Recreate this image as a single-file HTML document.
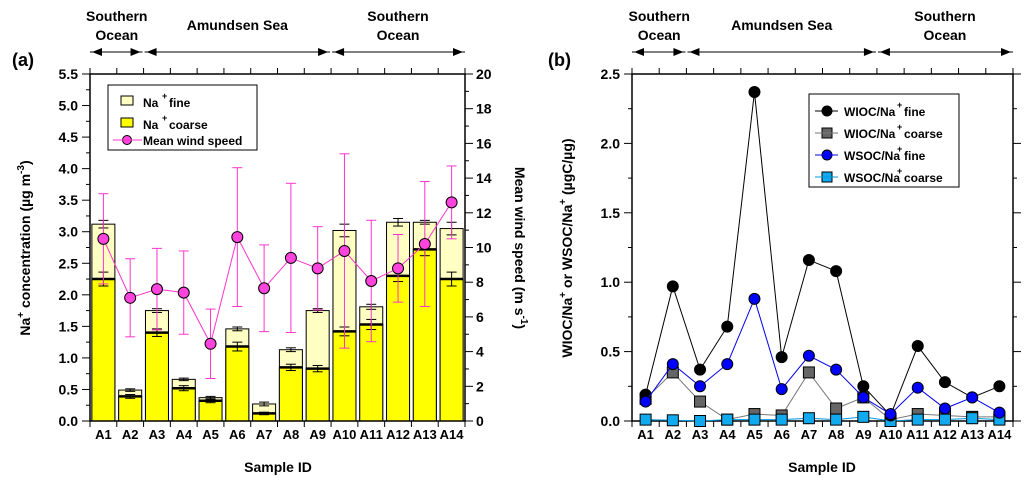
<!DOCTYPE html>
<html><head><meta charset="utf-8"><style>
body{margin:0;background:#fff;}
svg{display:block;font-family:"Liberation Sans",sans-serif;font-weight:bold;}
</style></head><body>
<svg id="c" width="1032" height="486" viewBox="0 0 1032 486"></svg>
<script>
const cats=["A1","A2","A3","A4","A5","A6","A7","A8","A9","A10","A11","A12","A13","A14"];
const naTotal=[3.12,0.49,1.75,0.66,0.37,1.46,0.27,1.13,1.75,3.02,1.81,3.15,3.15,3.05];
const naCoarse=[2.25,0.39,1.40,0.52,0.32,1.18,0.12,0.85,0.83,1.42,1.53,2.30,2.72,2.25];
const naTotErr=[0.06,0.02,0.03,0.02,0.02,0.03,0.03,0.03,0.03,0.1,0.04,0.06,0.03,0.1];
const naCoaErr=[0.11,0.03,0.06,0.04,0.03,0.07,0.02,0.05,0.05,0.07,0.08,0.09,0.1,0.11];
const wind=[10.5,7.1,7.6,7.4,4.45,10.6,7.65,9.4,8.8,9.8,8.07,8.8,10.2,12.6];
const windErr=[2.6,2.25,2.35,2.4,2.0,4.0,2.5,4.3,2.4,5.6,3.5,1.95,3.6,2.1];
const wiocFine=[0.19,0.97,0.37,0.68,2.37,0.46,1.16,1.08,0.25,0.04,0.54,0.28,0.17,0.25];
const wiocCoarse=[0.16,0.35,0.14,0.01,0.05,0.04,0.35,0.09,0.17,0.01,0.05,0.04,0.03,0.03];
const wsocFine=[0.14,0.41,0.25,0.41,0.88,0.23,0.47,0.37,0.17,0.05,0.24,0.09,0.17,0.06];
const wsocCoarse=[0.01,0.005,0.0,0.01,0.01,0.01,0.02,0.01,0.03,0.0,0.01,0.01,0.02,0.01];
const leftTicks=[0,0.5,1,1.5,2,2.5,3,3.5,4,4.5,5,5.5];
const windTicks=[0,2,4,6,8,10,12,14,16,18,20];
const rightTicks=[0,0.5,1,1.5,2,2.5];

const S=document.getElementById('c');const NS="http://www.w3.org/2000/svg";
function el(t,a,p){const e=document.createElementNS(NS,t);for(const k in a)e.setAttribute(k,a[k]);(p||S).appendChild(e);return e;}
function txt(x,y,s,a){const e=el('text',Object.assign({x:x,y:y},a||{}));e.textContent=s;return e;}
function line(x1,y1,x2,y2,c,w){return el('line',{x1,y1,x2,y2,stroke:c||'#000','stroke-width':w||1});}

// ---------- Panel A ----------
const A={x0:90,x1:465,y0:421,y1:74};
const aw=(A.x1-A.x0)/14;
const ax=i=>A.x0+aw*(i+0.5);
const ay=v=>A.y0-(A.y0-A.y1)*v/5.5;
const wy=v=>A.y0-(A.y0-A.y1)*v/20;
const gA=el('g',{});


cats.forEach((c,i)=>{
  const bx=ax(i)-11.5;
  const r1=el('rect',{x:bx,y:ay(naTotal[i]),width:23,height:A.y0-ay(naTotal[i]),fill:'#ffffc4',stroke:'#000','stroke-width':1},gA);
  
  
  const r2=el('rect',{x:bx,y:ay(naCoarse[i]),width:23,height:A.y0-ay(naCoarse[i]),fill:'#ffff00',stroke:'#000','stroke-width':1},gA);
  
  
  line(bx,ay(naCoarse[i]),bx+23,ay(naCoarse[i]),'#000',2.5);
  [[naTotal[i],naTotErr[i]],[naCoarse[i],naCoaErr[i]]].forEach(([v,e])=>{
    line(ax(i),ay(v+e),ax(i),ay(v-e));line(ax(i)-5,ay(v+e),ax(i)+5,ay(v+e));line(ax(i)-5,ay(v-e),ax(i)+5,ay(v-e));
  });
});
cats.forEach((c,i)=>{
  line(ax(i),wy(wind[i]+windErr[i]),ax(i),wy(wind[i]-windErr[i]),'#ff33cc');
  line(ax(i)-5,wy(wind[i]+windErr[i]),ax(i)+5,wy(wind[i]+windErr[i]),'#ff33cc');
  line(ax(i)-5,wy(wind[i]-windErr[i]),ax(i)+5,wy(wind[i]-windErr[i]),'#ff33cc');
});
el('polyline',{points:wind.map((v,i)=>ax(i)+','+wy(v)).join(' '),fill:'none',stroke:'#ff33cc','stroke-width':1});
wind.forEach((v,i)=>{const p=el('circle',{cx:ax(i),cy:wy(v),r:5.5,fill:'#ff44dd',stroke:'#000','stroke-width':1});
  });
el('rect',{x:A.x0,y:A.y1,width:A.x1-A.x0,height:A.y0-A.y1,fill:'none',stroke:'#000','stroke-width':1.5});
for(let v=0;v<=5.5001;v+=0.25){const y=ay(v);const maj=Math.abs(v*2-Math.round(v*2))<1e-6;line(A.x0-(maj?8:4),y,A.x0,y);}
leftTicks.forEach(v=>{txt(A.x0-12,ay(v)+5,v.toFixed(1),{'text-anchor':'end','font-size':14});});
for(let v=0;v<=20;v+=1){line(A.x1,wy(v),A.x1+(v%2?4:8),wy(v));}
windTicks.forEach(v=>txt(A.x1+11,wy(v)+5,String(v),{'font-size':14}));
for(let i=0;i<=14;i++){const x=A.x0+aw*i;line(x,A.y0,x,A.y0+6);line(x,A.y1,x,A.y1-6);}
cats.forEach((c,i)=>txt(ax(i),439,c,{'text-anchor':'middle','font-size':13}));
// legend A
const lA=el('g',{});
el('rect',{x:108,y:85,width:149,height:65,fill:'#fff',stroke:'#000'},lA);
el('rect',{x:121,y:96,width:12,height:9,fill:'#ffffc4',stroke:'#000'},lA);
el('rect',{x:121,y:118,width:12,height:9,fill:'#ffff00',stroke:'#000'},lA);
line(113,140,142,140,'#ff33cc');el('circle',{cx:127,cy:140,r:4.5,fill:'#ff44dd',stroke:'#000'},lA);
txt(143,107,'Na',{'font-size':12});txt(162,99,'+',{'font-size':9});txt(169,107,'fine',{'font-size':12});
txt(143,129,'Na',{'font-size':12});txt(162,121,'+',{'font-size':9});txt(169,129,'coarse',{'font-size':12});
txt(143,145,'Mean wind speed',{'font-size':12});

// ---------- Panel B ----------
const B={x0:632,x1:1013,y0:421,y1:74};
const bw=(B.x1-B.x0)/14;
const bx_=i=>B.x0+bw*(i+0.5);
const by=v=>B.y0-(B.y0-B.y1)*v/2.5;
el('rect',{x:B.x0,y:B.y1,width:B.x1-B.x0,height:B.y0-B.y1,fill:'none',stroke:'#000','stroke-width':1.5});
for(let v=0;v<=2.5001;v+=0.25){const maj=Math.abs(v*2-Math.round(v*2))<1e-6;line(B.x0-(maj?8:4),by(v),B.x0,by(v));line(B.x1,by(v),B.x1+(maj?8:4),by(v));}
rightTicks.forEach(v=>txt(B.x0-12,by(v)+5,v.toFixed(1),{'text-anchor':'end','font-size':14}));
for(let i=0;i<=14;i++){const x=B.x0+bw*i;line(x,B.y0,x,B.y0+6);line(x,B.y1,x,B.y1-6);}
cats.forEach((c,i)=>txt(bx_(i),439,c,{'text-anchor':'middle','font-size':13}));
const series=[
 {d:wiocCoarse,c:'#777',f:'#666',sq:1,n:'wioc-coarse'},
 {d:wsocCoarse,c:'#0099dd',f:'#11aaee',sq:1,n:'wsoc-coarse'},
 {d:wiocFine,c:'#000',f:'#000',sq:0,n:'wioc-fine'},
 {d:wsocFine,c:'#0000ee',f:'#0000ff',sq:0,n:'wsoc-fine'}];
series.forEach(s=>{
  const pl=el('polyline',{points:s.d.map((v,i)=>bx_(i)+','+by(v)).join(' '),fill:'none',stroke:s.c,'stroke-width':1});
  
  s.d.forEach((v,i)=>{let m;
    if(s.sq)m=el('rect',{x:bx_(i)-5.5,y:by(v)-5.5,width:11,height:11,fill:s.f,stroke:'#000'});
    else m=el('circle',{cx:bx_(i),cy:by(v),r:5.5,fill:s.f,stroke:'#000'});
    });
});
const lB=el('g',{});
el('rect',{x:809,y:94,width:150,height:93,fill:'#fff',stroke:'#000'},lB);
[['WIOC/Na','fine','#000','#000',0],['WIOC/Na','coarse','#777','#666',1],['WSOC/Na','fine','#0000ee','#0000ff',0],['WSOC/Na','coarse','#0099dd','#11aaee',1]].forEach((r,k)=>{
  const y=111+k*22;line(815,y,838,y,r[2]);
  if(r[4])el('rect',{x:822,y:y-5,width:10,height:10,fill:r[3],stroke:'#000'},lB);else el('circle',{cx:827,cy:y,r:5,fill:r[3],stroke:'#000'},lB);
  txt(844,y+5,r[0],{'font-size':12});txt(897,y-3,'+',{'font-size':9});txt(904,y+5,r[1],{'font-size':12});
});

// ---------- annotations ----------
function arrowSeg(x1,x2,y){line(x1,y,x2,y);
  el('polygon',{points:`${x1+2},${y} ${x1+12},${y-4} ${x1+12},${y+4}`,fill:'#000'});
  el('polygon',{points:`${x2-2},${y} ${x2-12},${y-4} ${x2-12},${y+4}`,fill:'#000'});}
[[A,aw],[B,bw]].forEach(([P,w])=>{
  const b1=P.x0+2*w,b2=P.x0+9*w;
  arrowSeg(P.x0,b1-1,52);arrowSeg(b1+1,b2-1,52);arrowSeg(b2+1,P.x1,52);
  txt((P.x0+b1)/2,21,'Southern',{'text-anchor':'middle','font-size':14});
  txt((P.x0+b1)/2,40,'Ocean',{'text-anchor':'middle','font-size':14});
  txt((b1+b2)/2,30,'Amundsen Sea',{'text-anchor':'middle','font-size':14});
  txt((b2+P.x1)/2,21,'Southern',{'text-anchor':'middle','font-size':14});
  txt((b2+P.x1)/2,40,'Ocean',{'text-anchor':'middle','font-size':14});
});
txt(12,66,'(a)',{'font-size':18});
txt(548,66,'(b)',{'font-size':18});
txt(278,472,'Sample ID',{'text-anchor':'middle','font-size':14});
txt(822,472,'Sample ID',{'text-anchor':'middle','font-size':14});
const t1=txt(0,0,'',{'font-size':14,transform:'translate(30,248) rotate(-90)','text-anchor':'middle'});
t1.innerHTML='Na<tspan dy="-6" font-size="10">+</tspan><tspan dy="6"> concentration (µg m</tspan><tspan dy="-6" font-size="10">-3</tspan><tspan dy="6">)</tspan>';
const t2=txt(0,0,'',{'font-size':14,transform:'translate(515,248) rotate(90)','text-anchor':'middle'});
t2.innerHTML='Mean wind speed (m s<tspan dy="-6" font-size="10">-1</tspan><tspan dy="6">)</tspan>';
const t3=txt(0,0,'',{'font-size':14,transform:'translate(572,248) rotate(-90)','text-anchor':'middle'});
t3.innerHTML='WIOC/Na<tspan dy="-6" font-size="10">+</tspan><tspan dy="6"> or WSOC/Na</tspan><tspan dy="-6" font-size="10">+</tspan><tspan dy="6"> (µgC/µg)</tspan>';
</script>
</body></html>
